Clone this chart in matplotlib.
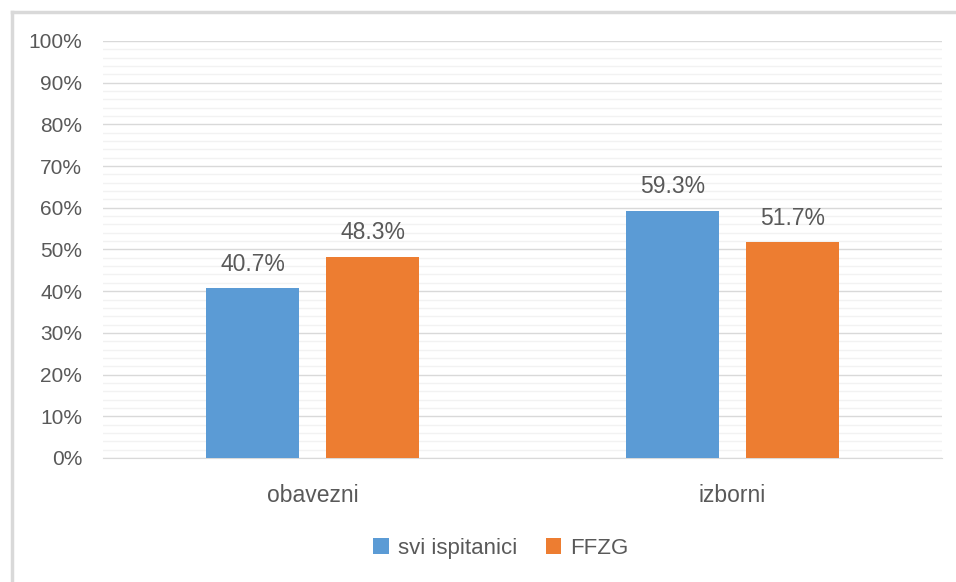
import matplotlib.pyplot as plt
import numpy as np
from matplotlib.lines import Line2D

categories = ['obavezni', 'izborni']
series_names = ['svi ispitanici', 'FFZG']
svi = [40.7, 59.3]
ffzg = [48.3, 51.7]
yticks = [0, 10, 20, 30, 40, 50, 60, 70, 80, 90, 100]

blue = '#5B9BD5'
orange = '#ED7D31'
txt = '#595959'
plt.rcParams['font.family'] = ['Liberation Sans', 'DejaVu Sans']

fig = plt.figure(figsize=(9.56, 5.82), dpi=100)
ax = fig.add_axes([0.1077, 0.2131, 0.8777, 0.7165])

x = np.arange(len(categories))
w = 0.222
off = 0.143
b1 = ax.bar(x - off, svi, w, color=blue, label=series_names[0], zorder=3)
b2 = ax.bar(x + off, ffzg, w, color=orange, label=series_names[1], zorder=3)

for bars in (b1, b2):
    for r in bars:
        ax.annotate(f'{r.get_height():.1f}%', (r.get_x() + r.get_width() / 2, r.get_height()),
                    xytext=(0, 9), textcoords='offset points', ha='center', va='bottom',
                    fontsize=16.5, color=txt)

ax.set_xlim(-0.5, 1.5)
ax.set_ylim(0, 100)
ax.set_yticks(yticks)
ax.set_yticklabels([f'{t}%' for t in yticks])
ax.set_yticks(np.arange(0, 101, 2), minor=True)
ax.grid(axis='y', which='major', color='#D9D9D9', lw=1, zorder=0)
ax.grid(axis='y', which='minor', color='#F2F2F2', lw=1, zorder=0)
ax.set_xticks(x)
ax.set_xticklabels(categories)
ax.tick_params(axis='y', which='both', length=0, pad=15, labelsize=15, labelcolor=txt)
ax.tick_params(axis='x', length=0, pad=19, labelsize=16.5, labelcolor=txt)
for s in ['top', 'right', 'left']:
    ax.spines[s].set_visible(False)
ax.spines['bottom'].set_color('#D9D9D9')

ax.legend(loc='center', bbox_to_anchor=(0.524, 0.058), bbox_transform=fig.transFigure,
          ncol=2, frameon=False, fontsize=16, labelcolor=txt, handlelength=0.7,
          handleheight=0.7, handletextpad=0.4, columnspacing=1.3)

# chart border (left and top)
fig.add_artist(Line2D([11.5 / 956, 11.5 / 956], [0, 1 - 12 / 582], color='#D9D9D9', lw=2.5))
fig.add_artist(Line2D([11.5 / 956, 1], [1 - 12 / 582, 1 - 12 / 582], color='#D9D9D9', lw=2.5))

fig.savefig('out.png', dpi=100)
